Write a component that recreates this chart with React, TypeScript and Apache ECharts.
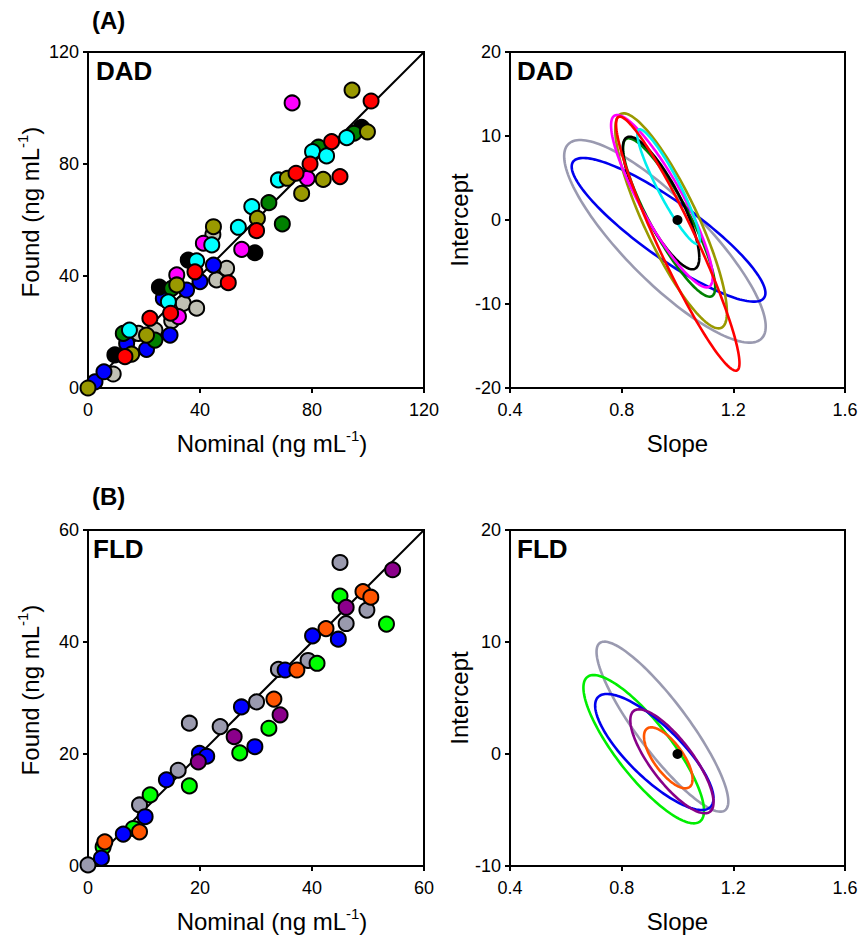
import React, { useEffect, useRef } from "react";
import * as echarts from "echarts";

// ---------- DATA ----------
// DAD scatter: [nominal, found]
const dadRed = [[101.1,102.5],[87,88],[79.3,80],[74.3,76.7],[90,75.5],[60.2,56.2],[38.2,41.5],[50.1,37.6],[13.2,11.2],[22.1,24.9],[29.5,26.7]];
const dadBlue = [[2.5,2.2],[5.7,5.8],[13.8,15.9],[20.9,13.8],[29.3,18.9],[26.9,32.0],[35.2,35.0],[40,38],[44.8,43.9]];
const dadBlack = [[9.6,11.8],[25.5,36.0],[35.8,45.7],[59.6,48.3],[97.7,93.1]];
const dadGreen = [[12.6,19.5],[23.9,17.1],[29.9,35.6],[64.6,66.2],[69.4,58.6],[82.3,86],[95,91]];
const dadCyan = [[14.8,20.7],[28.7,30.8],[38.8,45.4],[44.2,51.1],[53.7,57.4],[58.5,64.8],[68,74.3],[80.2,84.4],[85.2,82.9],[92.4,89.4]];
const dadMagenta = [[32.3,25.5],[31.7,40.4],[41.2,51.7],[54.9,49.5],[72.9,101.8],[78.3,74.9]];
const dadOlive = [[0,0],[15.6,12.1],[20.9,18.9],[31.7,36.8],[44.8,57.6],[60.5,60.6],[71.2,74.9],[76.3,69.5],[84,74.5],[94.3,106.4],[99.8,91.5]];
const dadGray = [[9.0,5.0],[18,19.5],[23.9,20.7],[29.9,24.0],[34.0,30.2],[38.8,28.5],[44.6,54.8],[45.9,38.6],[49.5,42.7]];

// FLD scatter: [nominal, found]
const fldGray = [[0,0.2],[9.2,10.9],[16.1,17.1],[18.1,25.5],[23.6,24.9],[30.1,29.3],[34.0,35.1],[39.3,36.7],[45,54.2],[46.1,43.3],[49.8,45.7]];
const fldOrange = [[3.0,4.3],[9.2,6.1],[33.2,29.8],[37.3,35.0],[42.5,42.4],[49.1,49.0],[50.5,48.0]];
const fldBlue = [[2.4,1.4],[6.3,5.7],[10.2,8.8],[14.0,15.4],[19.9,20.1],[21.2,19.6],[27.4,28.4],[29.8,21.3],[35.2,35.0],[40.1,41.1],[44.7,40.5]];
const fldGreen = [[2.7,3.4],[8.1,6.7],[11.1,12.7],[18.1,14.3],[27.1,20.2],[32.3,24.6],[40.9,36.2],[45,48.2],[53.3,43.2]];
const fldPurple = [[19.7,18.6],[26.1,23.1],[34.3,27.0],[46.1,46.2],[54.4,52.9]];

// Joint confidence ellipses: [slope centre, intercept centre, slope half-range, intercept half-range, correlation]
const dadEllipseColors = ["#9a9ab0", "#0000ee", "#008000", "#000000", "#999900", "#ff00ff", "#00eeee", "#ff0000"];
const dadEllipses = [
  [0.955, -2.54, 0.361, 12.06, -0.84],
  [0.968, -1.17, 0.347, 8.55, -0.88],
  [0.970, 0.30, 0.165, 9.43, -0.88],
  [0.941, 2.02, 0.137, 7.89, -0.82],
  [0.977, -0.10, 0.200, 12.8, -0.85],
  [0.944, 2.24, 0.182, 10.26, -0.88],
  [0.968, 3.97, 0.112, 6.83, -0.92],
  [1.001, -2.82, 0.221, 15.12, -0.94],
];
const fldEllipseColors = ["#9a9ab0", "#00ee00", "#0000ee", "#880088", "#ff5500"];
const fldEllipses = [
  [0.946, 2.44, 0.236, 7.59, -0.88],
  [0.879, 0.43, 0.216, 6.62, -0.83],
  [0.917, 0.18, 0.212, 5.18, -0.80],
  [0.980, -0.65, 0.149, 4.64, -0.79],
  [0.967, -0.34, 0.087, 2.72, -0.70],
];
const idealPoint = [[1, 0]];

const dadTicksX = [0, 40, 80, 120];
const fldTicksX = [0, 20, 40, 60];
const slopeTicks = [0.4, 0.8, 1.2, 1.6];

// ---------- CHART ----------
const FONT = "Liberation Sans, Arial, sans-serif";

function scatter(name: string, data: number[][], color: string, axis: number) {
  return {
    type: "scatter",
    name,
    xAxisIndex: axis,
    yAxisIndex: axis,
    data,
    symbol: "circle",
    symbolSize: 15,
    itemStyle: { color, borderColor: "#000", borderWidth: 2, opacity: 1 },
    z: 3,
  };
}

function ellipseSeries(e: number[], color: string, axis: number) {
  return {
    type: "custom",
    xAxisIndex: axis,
    yAxisIndex: axis,
    data: [[e[0], e[1]]],
    z: 3,
    renderItem: (_p: any, api: any) => {
      const [cx, cy, a, b, r] = e;
      const s = Math.sqrt(1 - r * r);
      const pts: number[][] = [];
      const n = 160;
      for (let k = 0; k <= n; k++) {
        const t = (2 * Math.PI * k) / n;
        const x = cx + a * Math.cos(t);
        const y = cy + b * (r * Math.cos(t) + s * Math.sin(t));
        pts.push(api.coord([x, y]));
      }
      return {
        type: "polyline",
        shape: { points: pts },
        style: { fill: null, stroke: color, lineWidth: 2.6 },
      };
    },
  };
}

function axisCommon() {
  return {
    axisLine: { show: true, onZero: false, lineStyle: { color: "#000", width: 2 } },
    axisTick: { show: true, inside: false, length: 5, lineStyle: { color: "#000", width: 2 } },
    splitLine: { show: false },
    axisLabel: { color: "#000", fontSize: 18, fontFamily: FONT, margin: 9 },
  };
}

const nameRich = {
  n: { fontSize: 24, fontFamily: FONT, color: "#000", lineHeight: 30 },
  s: { fontSize: 15, fontFamily: FONT, color: "#000", verticalAlign: "top", lineHeight: 30, padding: [0, 0, 9, 0] },
};

function xAxis(idx: number, min: number, max: number, interval: number, name: string, shift: number, isSlope = false) {
  const c = axisCommon();
  return {
    gridIndex: idx,
    type: "value",
    min,
    max,
    interval,
    name,
    nameLocation: "middle",
    nameGap: 40,
    nameTextStyle: { fontSize: 24, fontFamily: FONT, color: "#000", rich: nameRich, padding: [0, 0, 0, shift] },
    ...c,
    axisLabel: {
      ...c.axisLabel,
      margin: 13,
      formatter: (v: number) => (isSlope ? v.toFixed(1) : String(Math.round(v))),
    },
  };
}

function yAxis(idx: number, min: number, max: number, interval: number, name: string, gap: number, shift: number) {
  const c = axisCommon();
  return {
    gridIndex: idx,
    type: "value",
    min,
    max,
    interval,
    name,
    nameLocation: "middle",
    nameGap: gap,
    nameRotate: 90,
    nameTextStyle: { fontSize: 24, fontFamily: FONT, color: "#000", rich: nameRich, padding: [0, 0, 0, shift] },
    ...c,
  };
}

function diagLine(axis: number, max: number) {
  return {
    type: "line",
    xAxisIndex: axis,
    yAxisIndex: axis,
    data: [[0, 0], [max, max]],
    symbol: "none",
    lineStyle: { color: "#000", width: 2 },
    z: 2,
  };
}

export default function App() {
  const ref = useRef<HTMLDivElement>(null);
  useEffect(() => {
    if (!ref.current) return;
    const chart = echarts.init(ref.current, null, { renderer: "svg" });
    const gridBase = { show: true, borderColor: "#000", borderWidth: 2, backgroundColor: "transparent" };
    const foundName = "{n|Found (ng mL}{s|-1}{n|)}";
    const nominalName = "{n|Nominal (ng mL}{s|-1}{n|)}";
    const bold = (text: string, x: number, y: number, size: number) => ({
      type: "text",
      x,
      y,
      style: { text, fontSize: size, fontWeight: "bold", fontFamily: FONT, fill: "#000" },
    });
    const option: any = {
      animation: false,
      backgroundColor: "#fff",
      grid: [
        { ...gridBase, left: 88, top: 52, width: 336, height: 336 },
        { ...gridBase, left: 510, top: 52, width: 335, height: 336 },
        { ...gridBase, left: 88, top: 530, width: 336, height: 336 },
        { ...gridBase, left: 510, top: 530, width: 335, height: 336 },
      ],
      xAxis: [
        xAxis(0, dadTicksX[0], dadTicksX[3], 40, nominalName, 32),
        xAxis(1, slopeTicks[0], slopeTicks[3], 0.4, "{n|Slope}", 0, true),
        xAxis(2, fldTicksX[0], fldTicksX[3], 20, nominalName, 32),
        xAxis(3, slopeTicks[0], slopeTicks[3], 0.4, "{n|Slope}", 0, true),
      ],
      yAxis: [
        yAxis(0, 0, 120, 40, foundName, 43, 16),
        yAxis(1, -20, 20, 10, "{n|Intercept}", 27, 0),
        yAxis(2, 0, 60, 20, foundName, 43, 16),
        yAxis(3, -10, 20, 10, "{n|Intercept}", 27, 0),
      ],
      graphic: [
        bold("(A)", 92, 8, 24),
        bold("(B)", 92, 484, 24),
        bold("DAD", 96, 58, 26),
        bold("DAD", 517, 58, 26),
        bold("FLD", 93, 536, 26),
        bold("FLD", 517, 536, 26),
      ],
      series: [
        diagLine(0, 120),
        scatter("gray", dadGray, "#c0c0b4", 0),
        scatter("blue", dadBlue, "#0000ff", 0),
        scatter("black", dadBlack, "#000000", 0),
        scatter("green", dadGreen, "#008000", 0),
        scatter("magenta", dadMagenta, "#ff00ff", 0),
        scatter("cyan", dadCyan, "#00ffff", 0),
        scatter("olive", dadOlive, "#999900", 0),
        scatter("red", dadRed, "#ff0000", 0),
        ...dadEllipses.map((e, i) => ellipseSeries(e, dadEllipseColors[i], 1)),
        { type: "scatter", xAxisIndex: 1, yAxisIndex: 1, data: idealPoint, symbolSize: 10, itemStyle: { color: "#000", opacity: 1 }, z: 5 },
        diagLine(2, 60),
        scatter("fgray", fldGray, "#9a9aae", 2),
        scatter("fgreen", fldGreen, "#00ff00", 2),
        scatter("fblue", fldBlue, "#0000ff", 2),
        scatter("forange", fldOrange, "#ff5500", 2),
        scatter("fpurple", fldPurple, "#8b008b", 2),
        ...fldEllipses.map((e, i) => ellipseSeries(e, fldEllipseColors[i], 3)),
        { type: "scatter", xAxisIndex: 3, yAxisIndex: 3, data: idealPoint, symbolSize: 10, itemStyle: { color: "#000", opacity: 1 }, z: 5 },
      ],
    };
    chart.setOption(option);
    return () => chart.dispose();
  }, []);
  return <div ref={ref} style={{ position: "absolute", left: 0, top: 0, width: 864, height: 944 }} />;
}
